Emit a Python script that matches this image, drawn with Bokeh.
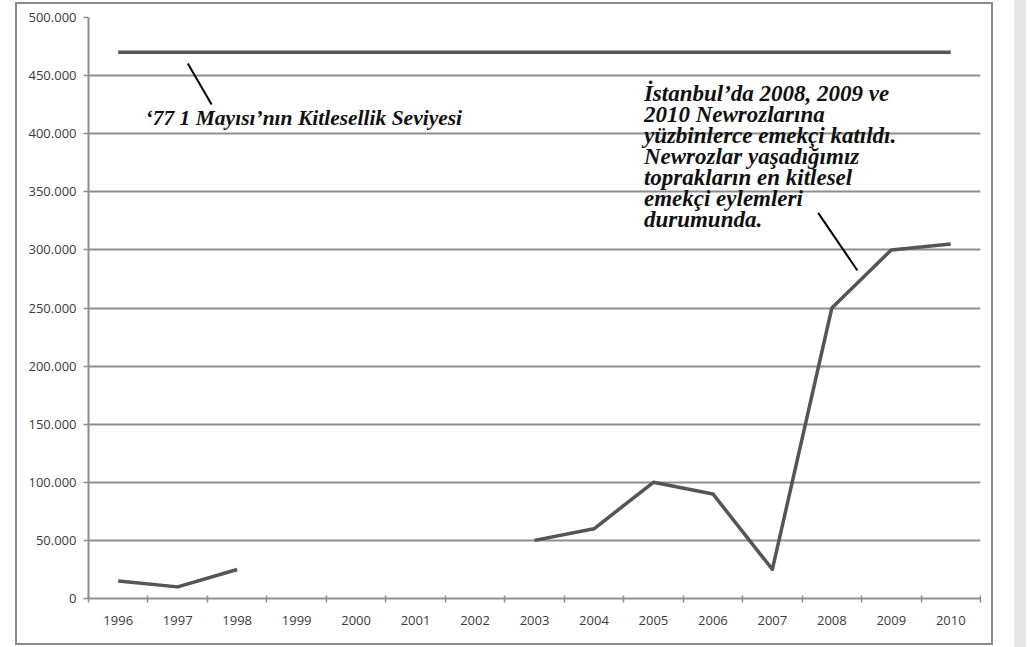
import math
from bokeh.plotting import figure
from bokeh.models import FixedTicker, CustomJSTickFormatter, Div
from bokeh.layouts import row
from bokeh.core.properties import value
from bokeh.embed import file_html
from bokeh.resources import INLINE

years = [1996, 1997, 1998, 1999, 2000, 2001, 2002, 2003, 2004, 2005, 2006, 2007, 2008, 2009, 2010]
participants = [15000, 10000, 25000, float("nan"), float("nan"), float("nan"), float("nan"),
                50000, 60000, 100000, 90000, 25000, 250000, 300000, 305000]
may1_1977_level = 470000
y_ticks = [0, 50000, 100000, 150000, 200000, 250000, 300000, 350000, 400000, 450000, 500000]
left_note = "‘77 1 Mayısı’nın Kitlesellik Seviyesi"
right_note = ["İstanbul’da 2008, 2009 ve", "2010 Newrozlarına", "yüzbinlerce emekçi katıldı.",
              "Newrozlar yaşadığımız", "toprakların en kitlesel", "emekçi eylemleri", "durumunda."]

GRID = "#8e8e8e"
LINE = "#555555"

p = figure(width=978, height=643, output_backend="svg", toolbar_location=None,
           x_range=(years[0] - 0.5, years[-1] + 0.5), y_range=(0, 500000),
           min_border_left=71, min_border_right=15, min_border_top=13, min_border_bottom=49,
           background_fill_color="white", border_fill_color="white")
p.outline_line_color = None
p.styles = {"border": "2px solid #8a8a8a", "margin-top": "2px", "margin-left": "15px",
            "margin-bottom": "-20px"}

# axes
p.xaxis.ticker = FixedTicker(ticks=years, minor_ticks=[y - 0.5 for y in years] + [years[-1] + 0.5])
p.xaxis.major_label_overrides = {y: str(y) for y in years}
p.xaxis.major_tick_line_color = None
p.xaxis.minor_tick_line_color = GRID
p.xaxis.minor_tick_line_width = 1.5
p.xaxis.minor_tick_in = 3
p.xaxis.minor_tick_out = 4
p.xaxis.major_label_standoff = 11
p.yaxis.ticker = FixedTicker(ticks=y_ticks)
p.yaxis.formatter = CustomJSTickFormatter(code="return tick == 0 ? '0' : (tick/1000).toFixed(3);")
p.yaxis.major_tick_line_color = GRID
p.yaxis.major_tick_line_width = 1.5
p.yaxis.major_tick_in = 0
p.yaxis.major_tick_out = 5
p.yaxis.minor_tick_line_color = None
p.yaxis.major_label_standoff = 7
for ax in (p.xaxis, p.yaxis):
    ax.axis_line_color = GRID
    ax.axis_line_width = 2
    ax.major_label_text_font = "Open Sans"
    ax.major_label_text_font_size = "13px"
    ax.major_label_text_color = "#3a3a3a"

p.xgrid.grid_line_color = None
p.ygrid.ticker = FixedTicker(ticks=y_ticks)
p.ygrid.grid_line_color = GRID
p.ygrid.grid_line_width = 2

# 1977 May Day reference level
p.line([years[0], years[-1]], [may1_1977_level, may1_1977_level], line_color=LINE, line_width=3.5)

# data series
p.line(years, participants, line_color=LINE, line_width=3.5, line_join="round")

# leader lines
p.segment(x0=[1997.17, 2007.77], y0=[460400, 331900], x1=[1997.57, 2008.43], y1=[425100, 282300],
          line_color="black", line_width=2)

# notes
p.text(x=[1996.46], y=[413700], text=[left_note], text_font=value("Liberation Serif"),
       text_font_style="bold italic", text_font_size="21.5px", text_color="#111111",
       text_baseline="alphabetic")
y0 = 434300
step = 18070
p.text(x=[2004.84] * len(right_note), y=[y0 - i * step for i in range(len(right_note))],
       text=right_note, text_font=value("Liberation Serif"), text_font_style="bold italic",
       text_font_size="23px", text_color="#111111", text_baseline="alphabetic")

side = Div(width=12, height=660, styles={"background-color": "#e6e6e6", "margin-left": "21px",
                                          "margin-top": "-8px", "margin-bottom": "-30px"})
layout = row(p, side)

open("out.html", "w").write(file_html(layout, INLINE))
